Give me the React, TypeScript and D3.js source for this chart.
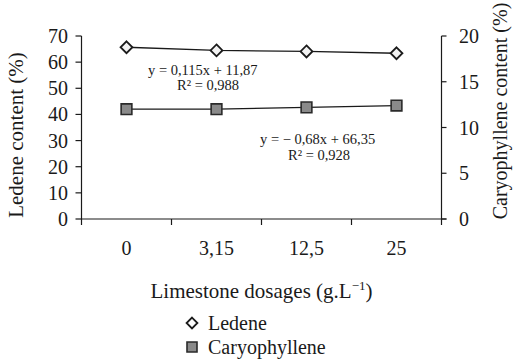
import { useEffect, useRef } from "react";
import * as d3 from "d3";

const dosages = ["0", "3,15", "12,5", "25"];
const ledene = [65.7, 64.5, 64.1, 63.4];
const caryophyllene = [12.0, 12.0, 12.2, 12.4];
const leftTicks = [0, 10, 20, 30, 40, 50, 60, 70];
const rightTicks = [0, 5, 10, 15, 20];

const FONT = "'Liberation Serif', 'Times New Roman', serif";
const INK = "#1a1a1a";

export default function App() {
  const ref = useRef<SVGSVGElement>(null);

  useEffect(() => {
    if (!ref.current) return;
    const width = 514;
    const height = 361;
    const plot = { left: 81.5, right: 441.5, top: 36, bottom: 219 };

    const svg = d3.select(ref.current);
    svg.selectAll("*").remove();
    svg.attr("width", width).attr("height", height);
    svg.append("rect").attr("width", width).attr("height", height).attr("fill", "#fff");

    const x = d3.scaleBand().domain(dosages).range([plot.left, plot.right]).padding(0);
    const yL = d3.scaleLinear().domain([0, 70]).range([plot.bottom, plot.top]);
    const yR = d3.scaleLinear().domain([0, 20]).range([plot.bottom, plot.top]);
    const cx = (d: string) => (x(d) ?? 0) + x.bandwidth() / 2;

    const axes = svg.append("g").attr("stroke", INK).attr("stroke-width", 1.2).attr("fill", "none");
    // left axis
    axes.append("line").attr("x1", plot.left).attr("x2", plot.left).attr("y1", plot.top).attr("y2", plot.bottom);
    axes
      .selectAll(".lt")
      .data(leftTicks)
      .join("line")
      .attr("x1", plot.left - 6)
      .attr("x2", plot.left)
      .attr("y1", (d) => yL(d))
      .attr("y2", (d) => yL(d));
    // right axis
    axes.append("line").attr("x1", plot.right).attr("x2", plot.right).attr("y1", plot.top).attr("y2", plot.bottom);
    axes
      .selectAll(".rt")
      .data(rightTicks)
      .join("line")
      .attr("x1", plot.right)
      .attr("x2", plot.right + 5)
      .attr("y1", (d) => yR(d))
      .attr("y2", (d) => yR(d));
    // x axis
    axes.append("line").attr("x1", plot.left).attr("x2", plot.right + 5).attr("y1", plot.bottom).attr("y2", plot.bottom);
    const bounds = [...dosages.map((d) => x(d) ?? 0), plot.right];
    axes
      .selectAll(".xt")
      .data(bounds)
      .join("line")
      .attr("x1", (d) => d)
      .attr("x2", (d) => d)
      .attr("y1", plot.bottom)
      .attr("y2", plot.bottom + 6);

    const text = svg.append("g").attr("font-family", FONT).attr("fill", INK);

    text
      .selectAll(".ltl")
      .data(leftTicks)
      .join("text")
      .attr("x", 68)
      .attr("y", (d) => yL(d))
      .attr("dy", "0.35em")
      .attr("text-anchor", "end")
      .attr("font-size", 20)
      .text((d) => d);

    text
      .selectAll(".rtl")
      .data(rightTicks)
      .join("text")
      .attr("x", 459)
      .attr("y", (d) => yR(d))
      .attr("dy", "0.35em")
      .attr("font-size", 20)
      .text((d) => d);

    text
      .selectAll(".xtl")
      .data(dosages)
      .join("text")
      .attr("x", (d) => cx(d))
      .attr("y", 255)
      .attr("text-anchor", "middle")
      .attr("font-size", 20)
      .text((d) => d);

    const xt = text
      .append("text")
      .attr("x", (plot.left + plot.right) / 2)
      .attr("y", 298)
      .attr("text-anchor", "middle")
      .attr("font-size", 21)
      .text("Limestone dosages (g.L");
    xt.append("tspan").attr("font-size", 13).attr("dy", -8).text("−1");
    xt.append("tspan").attr("dy", 8).text(")");

    text
      .append("text")
      .attr("transform", `translate(23,135) rotate(-90)`)
      .attr("text-anchor", "middle")
      .attr("font-size", 21)
      .text("Ledene content (%)");

    text
      .append("text")
      .attr("transform", `translate(507,111) rotate(-90)`)
      .attr("text-anchor", "middle")
      .attr("font-size", 20)
      .text("Caryophyllene content (%)");

    // equations
    const eq = text.append("g").attr("font-size", 14.5);
    eq.append("text").attr("x", 148).attr("y", 75).text("y = 0,115x + 11,87");
    eq.append("text").attr("x", 177).attr("y", 90).text("R² = 0,988");
    eq.append("text").attr("x", 260).attr("y", 144).text("y = − 0,68x + 66,35");
    eq.append("text").attr("x", 288).attr("y", 160).text("R² = 0,928");

    // series lines
    const lineL = d3
      .line<number>()
      .x((_, i) => cx(dosages[i]))
      .y((d) => yL(d));
    const lineR = d3
      .line<number>()
      .x((_, i) => cx(dosages[i]))
      .y((d) => yR(d));

    svg.append("path").datum(ledene).attr("d", lineL).attr("fill", "none").attr("stroke", INK).attr("stroke-width", 1.3);
    svg
      .append("path")
      .datum(caryophyllene)
      .attr("d", lineR)
      .attr("fill", "none")
      .attr("stroke", INK)
      .attr("stroke-width", 1.3);

    const diamond = d3.symbol().type(d3.symbolDiamond2).size(90);
    const square = d3.symbol().type(d3.symbolSquare).size(115);

    svg
      .append("g")
      .selectAll("path")
      .data(ledene)
      .join("path")
      .attr("transform", (d, i) => `translate(${cx(dosages[i])},${yL(d)})`)
      .attr("d", diamond)
      .attr("fill", "#f2f2f2")
      .attr("stroke", INK)
      .attr("stroke-width", 1.8);

    svg
      .append("g")
      .selectAll("path")
      .data(caryophyllene)
      .join("path")
      .attr("transform", (d, i) => `translate(${cx(dosages[i])},${yR(d)})`)
      .attr("d", square)
      .attr("fill", "#8a8a8a")
      .attr("stroke", "#2a2a2a")
      .attr("stroke-width", 1.6);

    // legend
    const legend = svg.append("g");
    legend
      .append("path")
      .attr("transform", "translate(192,323)")
      .attr("d", d3.symbol().type(d3.symbolDiamond2).size(75))
      .attr("fill", "#fff")
      .attr("stroke", INK)
      .attr("stroke-width", 1.8);
    legend
      .append("path")
      .attr("transform", "translate(192,347)")
      .attr("d", d3.symbol().type(d3.symbolSquare).size(100))
      .attr("fill", "#8a8a8a")
      .attr("stroke", "#2a2a2a")
      .attr("stroke-width", 1.6);
    legend
      .append("text")
      .attr("x", 208)
      .attr("y", 330)
      .attr("font-family", FONT)
      .attr("font-size", 20)
      .attr("fill", INK)
      .text("Ledene");
    legend
      .append("text")
      .attr("x", 208)
      .attr("y", 354)
      .attr("font-family", FONT)
      .attr("font-size", 20)
      .attr("fill", INK)
      .text("Caryophyllene");
  }, []);

  return (
    <div style={{ position: "absolute", left: 0, top: 0 }}>
      <svg ref={ref} style={{ display: "block" }} />
    </div>
  );
}
